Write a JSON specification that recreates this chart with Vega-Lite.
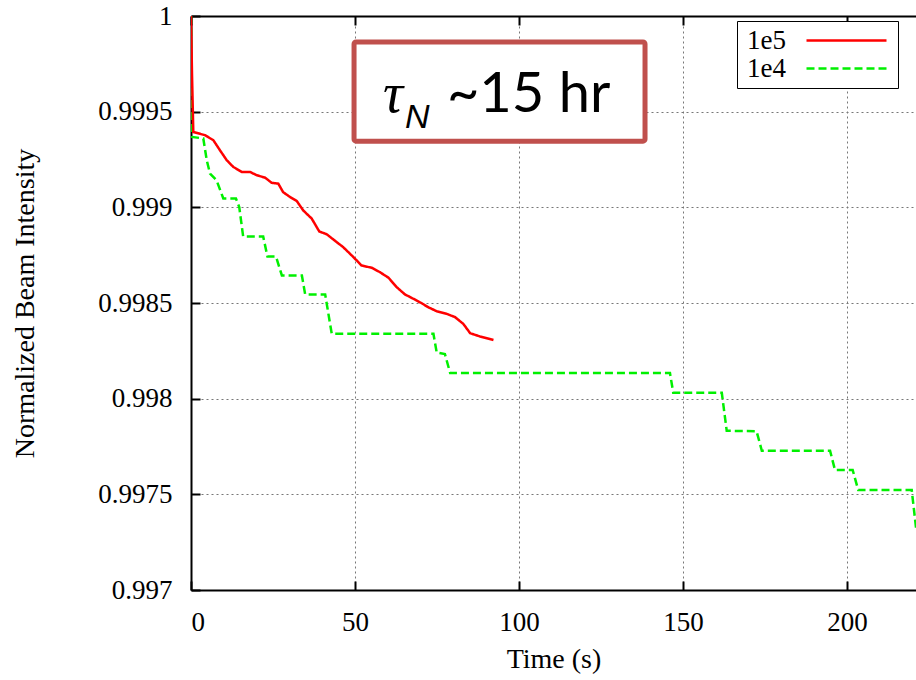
{
  "$schema": "https://vega.github.io/schema/vega-lite/v6.json",
  "width": 725,
  "height": 574,
  "autosize": {"type": "none"},
  "padding": {"left": 191, "top": 16, "right": 0, "bottom": 90},
  "background": "white",
  "config": {
    "view": {"stroke": null},
    "font": "Liberation Serif",
    "axis": {
      "domainColor": "black",
      "domainWidth": 2,
      "tickColor": "black",
      "tickWidth": 2,
      "tickSize": -9,
      "labelPadding": 28,
      "labelFont": "Liberation Serif",
      "labelFontSize": 27,
      "labelColor": "black",
      "titleFont": "Liberation Serif",
      "titleFontSize": 28,
      "titleFontWeight": "normal",
      "titleColor": "black",
      "gridColor": "#777777",
      "gridDash": [2, 3],
      "gridWidth": 1
    },
    "legend": {
      "title": null,
      "symbolType": "M-4,0H4",
      "symbolSize": 400,
      "symbolStrokeWidth": 2.5,
      "symbolOffset": 90,
      "labelOffset": -113,
      "labelFont": "Liberation Serif",
      "labelFontSize": 27,
      "labelColor": "black",
      "labelLimit": 0,
      "padding": 6,
      "rowPadding": 0,
      "strokeColor": "black",
      "fillColor": "white"
    }
  },
  "datasets": {
    "beam": [
      {"series": "1e4", "t": 0, "v": 1.0},
      {"series": "1e4", "t": 0.3, "v": 0.999368},
      {"series": "1e4", "t": 3.75, "v": 0.99936},
      {"series": "1e4", "t": 4.8, "v": 0.999246},
      {"series": "1e4", "t": 5.8, "v": 0.999176},
      {"series": "1e4", "t": 7.8, "v": 0.999141},
      {"series": "1e4", "t": 9.85, "v": 0.999046},
      {"series": "1e4", "t": 13.7, "v": 0.999046},
      {"series": "1e4", "t": 14.7, "v": 0.999002},
      {"series": "1e4", "t": 15.9, "v": 0.998848},
      {"series": "1e4", "t": 22.0, "v": 0.998848},
      {"series": "1e4", "t": 23.3, "v": 0.998743},
      {"series": "1e4", "t": 25.9, "v": 0.998743},
      {"series": "1e4", "t": 27.7, "v": 0.998644},
      {"series": "1e4", "t": 33.8, "v": 0.998644},
      {"series": "1e4", "t": 34.8, "v": 0.998545},
      {"series": "1e4", "t": 40.9, "v": 0.998545},
      {"series": "1e4", "t": 42.9, "v": 0.998339},
      {"series": "1e4", "t": 73.9, "v": 0.998339},
      {"series": "1e4", "t": 74.9, "v": 0.998241},
      {"series": "1e4", "t": 77.4, "v": 0.998233},
      {"series": "1e4", "t": 79.0, "v": 0.998134},
      {"series": "1e4", "t": 146.0, "v": 0.998134},
      {"series": "1e4", "t": 147.0, "v": 0.998031},
      {"series": "1e4", "t": 161.8, "v": 0.998031},
      {"series": "1e4", "t": 163.3, "v": 0.997832},
      {"series": "1e4", "t": 172.4, "v": 0.99783},
      {"series": "1e4", "t": 174.0, "v": 0.997728},
      {"series": "1e4", "t": 194.8, "v": 0.997728},
      {"series": "1e4", "t": 196.3, "v": 0.997627},
      {"series": "1e4", "t": 201.7, "v": 0.997627},
      {"series": "1e4", "t": 203.4, "v": 0.997522},
      {"series": "1e4", "t": 219.7, "v": 0.997522},
      {"series": "1e4", "t": 221.0, "v": 0.997326},
      {"series": "1e5", "t": 0, "v": 1.0},
      {"series": "1e5", "t": 0.3, "v": 0.99970},
      {"series": "1e5", "t": 0.7, "v": 0.999394},
      {"series": "1e5", "t": 4.27, "v": 0.999377},
      {"series": "1e5", "t": 6.8, "v": 0.999351},
      {"series": "1e5", "t": 8.84, "v": 0.999298},
      {"series": "1e5", "t": 10.9, "v": 0.999246},
      {"series": "1e5", "t": 12.9, "v": 0.999211},
      {"series": "1e5", "t": 15.5, "v": 0.999185},
      {"series": "1e5", "t": 18.0, "v": 0.999185},
      {"series": "1e5", "t": 20.0, "v": 0.999168},
      {"series": "1e5", "t": 22.6, "v": 0.999155},
      {"series": "1e5", "t": 24.6, "v": 0.999128},
      {"series": "1e5", "t": 26.6, "v": 0.999124},
      {"series": "1e5", "t": 28.1, "v": 0.999079},
      {"series": "1e5", "t": 30.2, "v": 0.999054},
      {"series": "1e5", "t": 32.2, "v": 0.999034},
      {"series": "1e5", "t": 34.2, "v": 0.998984},
      {"series": "1e5", "t": 36.8, "v": 0.998941},
      {"series": "1e5", "t": 39.1, "v": 0.998874},
      {"series": "1e5", "t": 41.4, "v": 0.998859},
      {"series": "1e5", "t": 43.9, "v": 0.998825},
      {"series": "1e5", "t": 46.4, "v": 0.998792},
      {"series": "1e5", "t": 49.5, "v": 0.99874},
      {"series": "1e5", "t": 52.0, "v": 0.998696},
      {"series": "1e5", "t": 55.1, "v": 0.998684},
      {"series": "1e5", "t": 57.6, "v": 0.998661},
      {"series": "1e5", "t": 60.2, "v": 0.998632},
      {"series": "1e5", "t": 62.7, "v": 0.998583},
      {"series": "1e5", "t": 65.2, "v": 0.998545},
      {"series": "1e5", "t": 67.8, "v": 0.998522},
      {"series": "1e5", "t": 70.3, "v": 0.998499},
      {"series": "1e5", "t": 72.3, "v": 0.998478},
      {"series": "1e5", "t": 74.9, "v": 0.998457},
      {"series": "1e5", "t": 78.0, "v": 0.998443},
      {"series": "1e5", "t": 80.5, "v": 0.998426},
      {"series": "1e5", "t": 83.0, "v": 0.998391},
      {"series": "1e5", "t": 85.1, "v": 0.998342},
      {"series": "1e5", "t": 88.1, "v": 0.998325},
      {"series": "1e5", "t": 92.2, "v": 0.998307}
    ],
    "note": [
      {"symbol": "τ", "sub": "N", "text": "~15 hr"}
    ]
  },
  "resolve": {"axis": {"x": "independent", "y": "independent"}},
  "layer": [
    {
      "data": {"name": "beam"},
      "mark": {"type": "line", "strokeWidth": 2.5, "clip": true},
      "encoding": {
        "x": {
          "field": "t",
          "type": "quantitative",
          "scale": {"domain": [0, 221], "nice": false, "zero": false},
          "axis": {
            "orient": "bottom",
            "title": "Time (s)",
            "values": [0, 50, 100, 150, 200],
            "grid": true,
            "titleY": 77,
            "titleBaseline": "alphabetic"
          }
        },
        "y": {
          "field": "v",
          "type": "quantitative",
          "scale": {"domain": [0.997, 1], "nice": false, "zero": false},
          "axis": {
            "orient": "left",
            "title": "Normalized Beam Intensity",
            "values": [0.997, 0.9975, 0.998, 0.9985, 0.999, 0.9995, 1],
            "format": ".4~f",
            "grid": true,
            "titleX": -166,
            "titleY": 287,
            "titleAngle": 270,
            "titleAlign": "center",
            "titleBaseline": "middle"
          }
        },
        "color": {
          "field": "series",
          "type": "nominal",
          "scale": {"domain": ["1e5", "1e4"], "range": ["#ff0000", "#00f000"]},
          "legend": {"orient": "none", "legendX": 546, "legendY": 5}
        },
        "strokeDash": {
          "field": "series",
          "type": "nominal",
          "scale": {"domain": ["1e5", "1e4"], "range": [[1, 0], [8, 4]]},
          "legend": {"orient": "none", "legendX": 546, "legendY": 5}
        }
      }
    },
    {
      "data": {"name": "note"},
      "mark": {"type": "rect", "fill": "white", "stroke": "#c0504d", "strokeWidth": 5, "cornerRadius": 2},
      "encoding": {
        "x": {
          "datum": 49.7,
          "type": "quantitative",
          "axis": {
            "orient": "top",
            "title": null,
            "labels": false,
            "grid": false,
            "values": [0, 50, 100, 150, 200]
          }
        },
        "x2": {"datum": 138.4},
        "y": {"datum": 0.999864, "type": "quantitative", "axis": null},
        "y2": {"datum": 0.999346}
      }
    },
    {
      "data": {"name": "note"},
      "mark": {"type": "text", "font": "Liberation Serif", "fontStyle": "italic", "fontSize": 56, "align": "left", "baseline": "alphabetic", "color": "black"},
      "encoding": {
        "text": {"field": "symbol"},
        "x": {"datum": 58.5, "type": "quantitative", "axis": null},
        "y": {"datum": 0.999497, "type": "quantitative", "axis": null}
      }
    },
    {
      "data": {"name": "note"},
      "mark": {"type": "text", "font": "Liberation Sans", "fontStyle": "italic", "fontSize": 34, "align": "left", "baseline": "alphabetic", "color": "black"},
      "encoding": {
        "text": {"field": "sub"},
        "x": {"datum": 65.2, "type": "quantitative", "axis": null},
        "y": {"datum": 0.999414, "type": "quantitative", "axis": null}
      }
    },
    {
      "data": {"name": "note"},
      "mark": {"type": "text", "font": "Lato", "fontSize": 56, "align": "left", "baseline": "alphabetic", "color": "black"},
      "encoding": {
        "text": {"field": "text"},
        "x": {"datum": 78.0, "type": "quantitative", "axis": null},
        "y": {"datum": 0.999497, "type": "quantitative", "axis": null}
      }
    }
  ]
}
